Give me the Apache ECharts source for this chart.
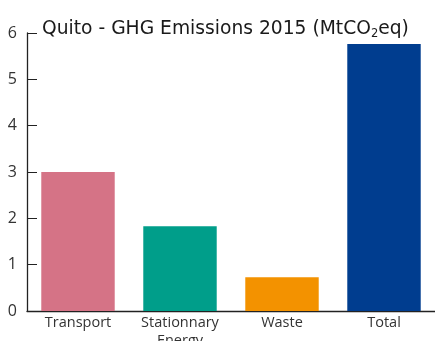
<!DOCTYPE html>
<html>
<head>
<meta charset="utf-8">
<script src="https://cdn.jsdelivr.net/npm/echarts@6/dist/echarts.min.js"></script>
<style>
  html, body { margin: 0; padding: 0; background: #fff; }
  #chart { width: 435px; height: 341px; }
</style>
</head>
<body>
<div id="chart"></div>
<script>
// GHG emissions by sector, Quito 2015 (MtCO2eq)
const categories = ['Transport', 'Stationnary\nEnergy', 'Waste', 'Total'];
const emissions = [3.0, 1.83, 0.73, 5.76];
const barColors = ['#D57386', '#009E8A', '#F39200', '#003D8F'];
const yTicks = [0, 1, 2, 3, 4, 5, 6];

const TITLE_FONT = '"DejaVu Sans", sans-serif';
const FONT = '"Open Sans", sans-serif';
const chart = echarts.init(document.getElementById('chart'));

chart.setOption({
  animation: false,
  title: {
    text: '{a|Quito - GHG Emissions 2015 (MtCO}{s|2}{a|eq)}',
    left: 37,
    top: 13,
    textStyle: {
      fontWeight: 'normal',
      rich: {
        a: { fontFamily: TITLE_FONT, fontSize: 18.7, fontWeight: 'normal', color: '#1a1a1a', lineHeight: 22 },
        s: { fontFamily: TITLE_FONT, fontSize: 11.5, fontWeight: 'normal', color: '#1a1a1a', lineHeight: 22, padding: [10, 0, 0, 0] }
      }
    }
  },
  grid: { left: 27, right: 0, top: 33, bottom: 30, outerBoundsMode: 'none' },
  xAxis: {
    type: 'category',
    data: categories,
    axisLine: { lineStyle: { color: '#222', width: 1.3 } },
    axisTick: { inside: true, length: 6, lineStyle: { color: '#222' } },
    axisLabel: { fontFamily: FONT, fontSize: 14.5, color: '#333', margin: 3, lineHeight: 18, interval: 0 }
  },
  yAxis: {
    type: 'value',
    min: yTicks[0],
    max: yTicks[yTicks.length - 1],
    interval: 1,
    splitLine: { show: false },
    axisLine: { show: true, lineStyle: { color: '#222', width: 1.3 } },
    axisTick: { show: true, inside: true, length: 10, lineStyle: { color: '#222' } },
    axisLabel: { fontFamily: FONT, fontSize: 16, color: '#333', margin: 10 }
  },
  series: [{
    type: 'bar',
    data: emissions.map((v, i) => ({ value: v, itemStyle: { color: barColors[i] } })),
    barCategoryGap: '28%'
  }]
});
</script>
</body>
</html>
